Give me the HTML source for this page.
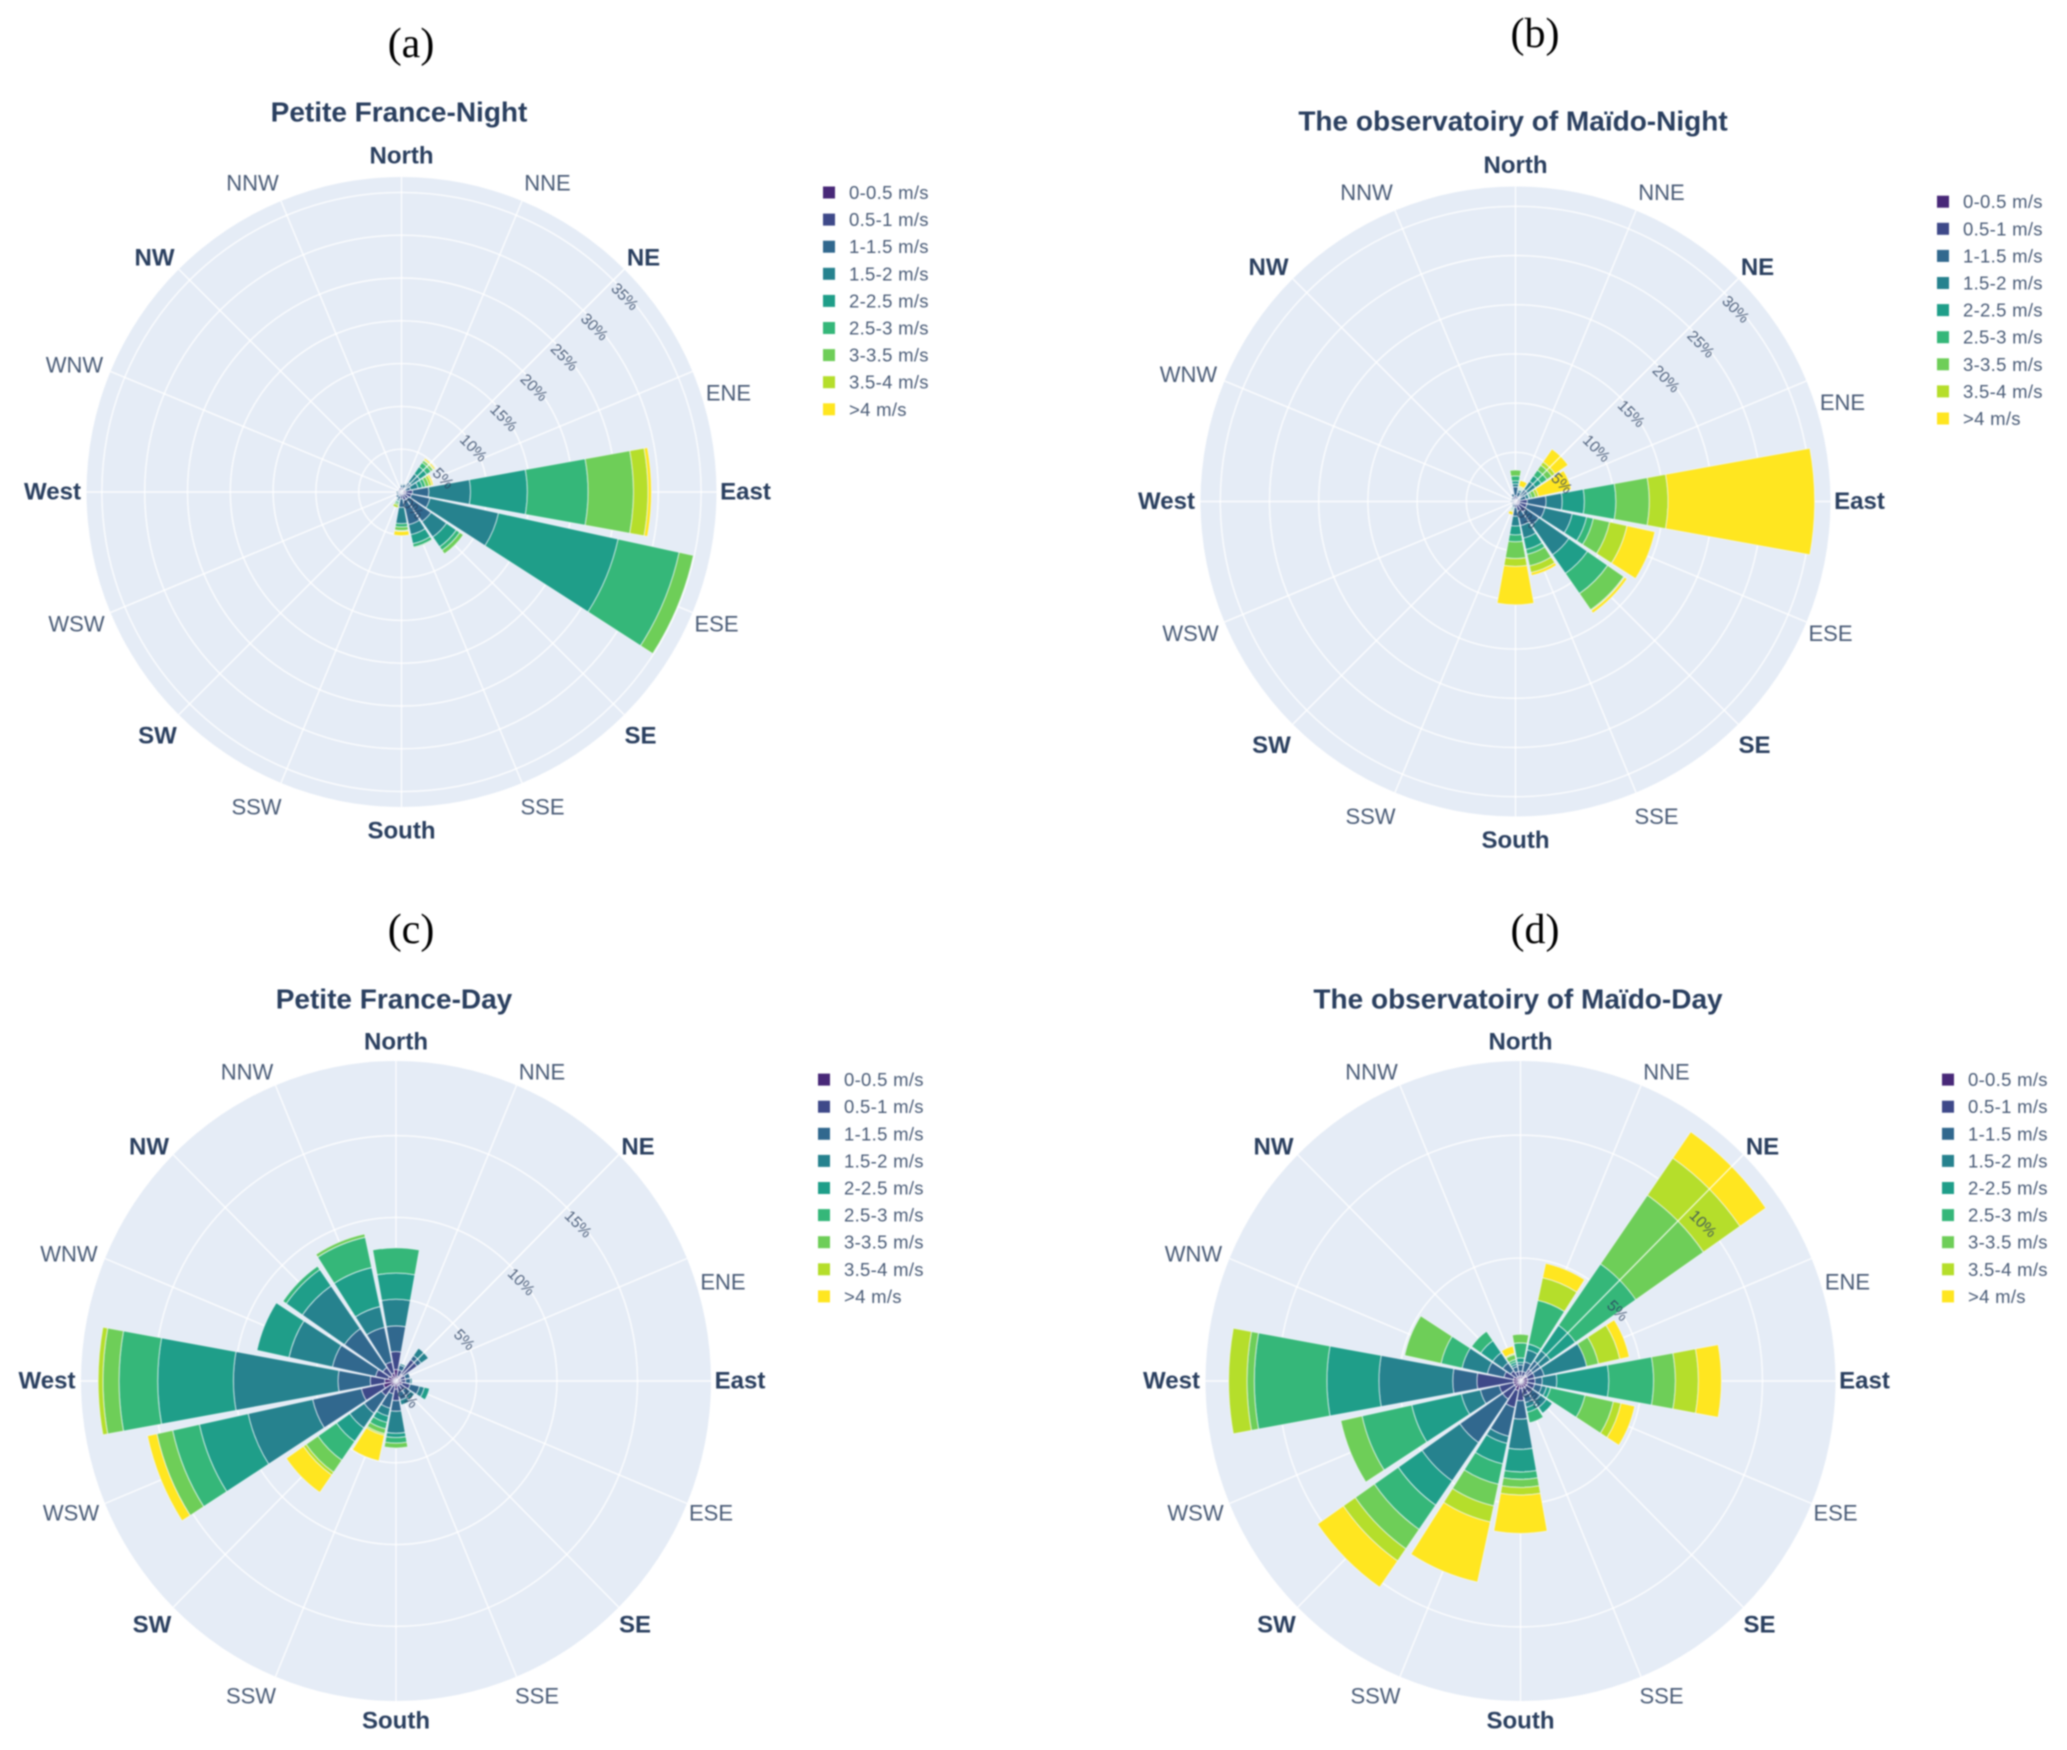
<!DOCTYPE html>
<html lang="en">
<head>
<meta charset="utf-8">
<title>Wind roses</title>
<style>
html,body{margin:0;padding:0;background:#fff;width:2067px;height:1750px;overflow:hidden}
svg{display:block;filter:blur(.9px)}
text{font-family:"Liberation Sans","DejaVu Sans",sans-serif;fill:#2a3f5f}
.panel{font-family:"Liberation Serif",serif;font-size:42px;fill:#000;text-anchor:middle}
.title{font-weight:bold;font-size:28px;text-anchor:middle;dominant-baseline:central}
.ang{font-size:22px;text-anchor:middle;dominant-baseline:central;opacity:.85}
.ang.major{font-weight:bold;font-size:24px;opacity:1}
.rad{font-size:15.5px;text-anchor:middle;dominant-baseline:central;opacity:.8}
.leg{font-size:18.5px;letter-spacing:.3px;dominant-baseline:central;opacity:.85}
</style>
</head>
<body>
<svg id="figure" xmlns="http://www.w3.org/2000/svg" width="2067" height="1750" viewBox="0 0 2067 1750">
  <text class="panel" x="411" y="57">(a)</text>
  <text class="panel" x="1535" y="47">(b)</text>
  <text class="panel" x="411" y="943">(c)</text>
  <text class="panel" x="1535" y="943">(d)</text>
  <text class="title" x="399" y="112">Petite France-Night</text>
  <text class="title" x="1513" y="121">The observatoiry of Maïdo-Night</text>
  <text class="title" x="394" y="999">Petite France-Day</text>
  <text class="title" x="1518" y="999">The observatoiry of Maïdo-Day</text>
</svg>
<script>
// Categories
const directions = ["North","NNE","NE","ENE","East","ESE","SE","SSE","South","SSW","SW","WSW","West","WNW","NW","NNW"];
const speedBins = ["0-0.5 m/s","0.5-1 m/s","1-1.5 m/s","1.5-2 m/s","2-2.5 m/s","2.5-3 m/s","3-3.5 m/s","3.5-4 m/s",">4 m/s"];

// Frequency (%) per direction; each row lists the nine speed bins in order
const petiteNight = [
  [.2,.3,.3,.1,0,0,0,0,0],
  [.2,.3,.4,.1,0,0,0,0,0],
  [.2,.4,.8,1.2,1,.6,.3,.1,.2],
  [.2,.3,.6,.9,.5,.4,.4,.3,.2],
  [.5,.8,1.9,4.86,6.64,7.1,5.3,1.7,.4],
  [.5,.7,2.2,8.2,14.3,7.3,1.7,0,0],
  [.3,.7,3.2,2.2,1.4,.5,.5,0,0],
  [.3,.7,2.9,1.2,1.1,.4,.1,0,0],
  [.2,.6,1,1.9,0,.4,.4,.1,.5],
  [.2,.3,.4,.2,.1,.2,.2,.3,0],
  [.2,.3,.3,0,0,0,0,0,0],
  [.2,.2,.2,0,0,0,0,0,0],
  [.2,.2,.2,0,0,0,0,0,0],
  [.2,.2,0,0,0,0,0,0,0],
  [.2,.2,0,0,0,0,0,0,0],
  [.2,.3,0,0,0,0,0,0,0]
];
const maidoNight = [
  [.2,.4,.9,.3,.3,.5,.6,0,0],
  [.2,.3,.5,.2,.1,.1,.1,.1,.6],
  [.2,.4,.9,1,.7,.7,.6,.4,1.6],
  [.2,.3,.6,.3,.1,.2,.4,.3,3.4],
  [.4,.8,1.9,1.65,2.25,3.2,3.4,1.9,14.9],
  [.4,.8,1.85,2.85,1.5,.7,1.7,1.8,2.9],
  [.4,.9,1.6,3.7,2.3,2.5,2,.1,.3],
  [.3,.7,1.5,1.3,1.2,.5,1.2,.7,.3],
  [.2,.4,.9,1,.9,.7,1.7,.8,3.9],
  [.1,.2,.3,.1,.1,.1,.1,.1,.3],
  [.2,.2,.1,0,0,0,0,0,0],
  [.1,.1,.1,0,0,0,0,0,0],
  [.2,.2,.1,0,0,0,0,0,0],
  [.1,.2,.1,0,0,0,0,0,0],
  [.1,.2,.2,0,0,0,0,0,0],
  [.2,.3,.3,0,0,0,0,0,0]
];
const petiteDay = [
  [.7,1.1,1.57,1.63,1.6,1.54,0,0,0],
  [.3,.4,.3,.1,0,0,0,0,0],
  [.5,1.1,.3,.55,0,0,0,0,0],
  [.3,.3,.3,0,0,0,0,0,0],
  [.3,.3,.3,.1,0,0,0,0,0],
  [.4,.5,.6,.3,.33,0,0,0,0],
  [.3,.4,.4,.3,0,0,0,0,0],
  [.3,.4,.5,.3,0,0,0,0,0],
  [.5,.7,.65,1.35,.26,.34,.3,0,0],
  [.3,.5,.9,.5,.4,.4,.3,.1,1.6],
  [.4,.7,1.3,1.1,1,1.4,.9,.2,1.3],
  [.8,1.4,3.1,4.1,3.1,1.7,1,0,.6],
  [.7,.9,2,6.5,4.7,2.4,1,.3,0],
  [.5,.8,2.74,2.76,2.04,0,0,0,0],
  [.4,.6,2.9,3.18,1.22,.25,0,0,0],
  [.5,.7,2.16,1.3,2.44,1.9,.2,0,0]
];
const maidoDay = [
  [.2,.2,.26,.1,.18,.61,.35,0,0],
  [.2,.2,.4,.5,.24,1.82,0,.94,.6],
  [.3,.3,.4,.5,1.26,3.04,3.4,1.84,1.3],
  [.3,.3,.4,1.8,0,0,.5,.9,.4],
  [.3,.3,.3,.6,2.15,1.85,.9,.95,.95],
  [.3,.3,.3,.2,.17,1.46,1.2,.32,.58],
  [.3,.3,.4,.3,.3,0,0,0,0],
  [.3,.3,.3,.2,.2,.44,0,0,0],
  [.3,.5,.75,1.23,.92,.3,.33,.31,1.56],
  [.4,.7,1.2,.3,.85,.85,.9,.67,2.5],
  [.3,.6,2.15,1.9,1.2,1.2,.96,.6,1.3],
  [.3,.6,.8,.8,2.1,2.1,.9,0,0],
  [.3,1.5,1,3.05,2.15,3,.3,.76,0],
  [.3,.4,.7,1.07,0,.89,1.54,0,0],
  [.2,.3,.4,.5,.6,.46,0,0,0],
  [.2,.2,.2,.1,.1,.1,.2,.05,.3]
];

// Radial tick labels (%)
const ticksPetiteNight = [0,5,10,15,20,25,30,35];
const ticksMaidoNight = [0,5,10,15,20,25,30];
const ticksPetiteDay = [0,5,10,15];
const ticksMaidoDay = [0,5,10];

// Appearance and layout (not data)
const binColors = ["#482878","#3e4989","#31688e","#26828e","#1f9e89","#35b779","#6ece58","#b5de2b","#ffe620"];
const labelOffset = [[0,-336],[146,-309],[242,-234],[327,-99],[344,0],[315,132],[239,244],[141,315],[0,339],[-145,315],[-244,244],[-325,132],[-349,0],[-327,-127],[-247,-234],[-149,-309]];
const NS = "http://www.w3.org/2000/svg";
const DISC_R = 315;
const BAR_WIDTH = 20.5;
const fig = document.getElementById("figure");

function make(tag, attrs, parent){
  const el = document.createElementNS(NS, tag);
  for (const k in attrs) el.setAttribute(k, attrs[k]);
  parent.appendChild(el);
  return el;
}
function polar(cx, cy, r, deg){
  const a = deg * Math.PI / 180;
  return [cx + r * Math.sin(a), cy - r * Math.cos(a)];
}
function wedge(cx, cy, r0, r1, deg, width){
  const a0 = deg - width / 2, a1 = deg + width / 2;
  const p0 = polar(cx, cy, r0, a0), p1 = polar(cx, cy, r1, a0);
  const p2 = polar(cx, cy, r1, a1), p3 = polar(cx, cy, r0, a1);
  return "M" + p0.join(" ") + "L" + p1.join(" ") + "A" + r1 + " " + r1 + " 0 0 1 " + p2.join(" ") +
         "L" + p3.join(" ") + "A" + r0 + " " + r0 + " 0 0 0 " + p0.join(" ") + "Z";
}

function drawRose(key, values, ticks, cx, cy, pxPerPct, legX, legY, stretchY, northNudge, southNudge){
  const rScale = v => v * pxPerPct;
  const angleScale = i => i * 360 / directions.length;

  const g = make("g", {}, fig);
  
  

  const plot = make("g", {transform: "translate(" + cx + " " + cy + ") scale(1 " + stretchY + ") translate(" + (-cx) + " " + (-cy) + ")"}, g);
  
  

  const disc = make("circle", {cx:cx, cy:cy, r:DISC_R, fill:"#e5ecf6"}, plot);
  
  

  directions.forEach((d, i) => {
    const end = polar(cx, cy, DISC_R, angleScale(i));
    const spoke = make("line", {x1:cx, y1:cy, x2:end[0], y2:end[1], stroke:"#fff", "stroke-width":1.4, "stroke-opacity":.85}, plot);
    
    
  });
  ticks.forEach(t => {
    if (t === 0) return;
    const ring = make("circle", {cx:cx, cy:cy, r:rScale(t), fill:"none", stroke:"#fff", "stroke-width":1.4, "stroke-opacity":.85}, plot);
    
    
  });

  values.forEach((row, i) => {
    let cum = 0;
    row.forEach((v, b) => {
      if (v <= 0) return;
      const seg = make("path", {
        d: wedge(cx, cy, rScale(cum), rScale(cum + v), angleScale(i), BAR_WIDTH),
        fill: binColors[b], stroke: "#f2f5fb", "stroke-width": 0.9, "stroke-opacity": 0.75
      }, plot);
      
      
      cum += v;
    });
  });

  const axisEnd = polar(cx, cy, DISC_R, 45);
  const axis = make("line", {x1:cx, y1:cy, x2:axisEnd[0], y2:axisEnd[1], stroke:"#fff", "stroke-width":1.3, "stroke-opacity":.8}, plot);
  
  

  ticks.forEach(t => {
    const p = polar(cx, cy, rScale(t), 45);
    const x = p[0] + 11, y = cy + (p[1] - cy) * stretchY + 17;
    const lab = make("text", {class:"rad", x:x, y:y, transform:"rotate(45 " + x + " " + y + ")"}, g);
    lab.textContent = t + "%";
    
    
  });

  directions.forEach((d, i) => {
    const major = i % 2 === 0;
    const nudge = i === 0 ? northNudge : (i === 8 ? southNudge : 0);
    const lab = make("text", {class: major ? "ang major" : "ang", x: cx + labelOffset[i][0], y: cy + labelOffset[i][1] + nudge}, g);
    lab.textContent = d;
    
    
  });

  const leg = make("g", {}, g);
  
  
  speedBins.forEach((s, b) => {
    const y = legY + b * 27.1;
    const entry = make("g", {}, leg);
    
    
    const sw = make("rect", {x:legX - 6, y:y - 6, width:12, height:12, fill:binColors[b]}, entry);
    
    
    const tx = make("text", {class:"leg", x:legX + 20, y:y}, entry);
    tx.textContent = s;
    
    
  });
}

drawRose("petite-france-night", petiteNight, ticksPetiteNight, 401.5, 492, 8.56, 829, 192.5, 1, 0, 0);
drawRose("maido-night", maidoNight, ticksMaidoNight, 1515.5, 501.5, 9.84, 1943, 201.7, 1, 0, 0);
drawRose("petite-france-day", petiteDay, ticksPetiteDay, 396, 1381, 16.1, 824, 1079.6, 1.016, -3, 1);
drawRose("maido-day", maidoDay, ticksMaidoDay, 1520.5, 1381, 24.2, 1948, 1079.6, 1.016, -3, 1);
</script>
</body>
</html>
